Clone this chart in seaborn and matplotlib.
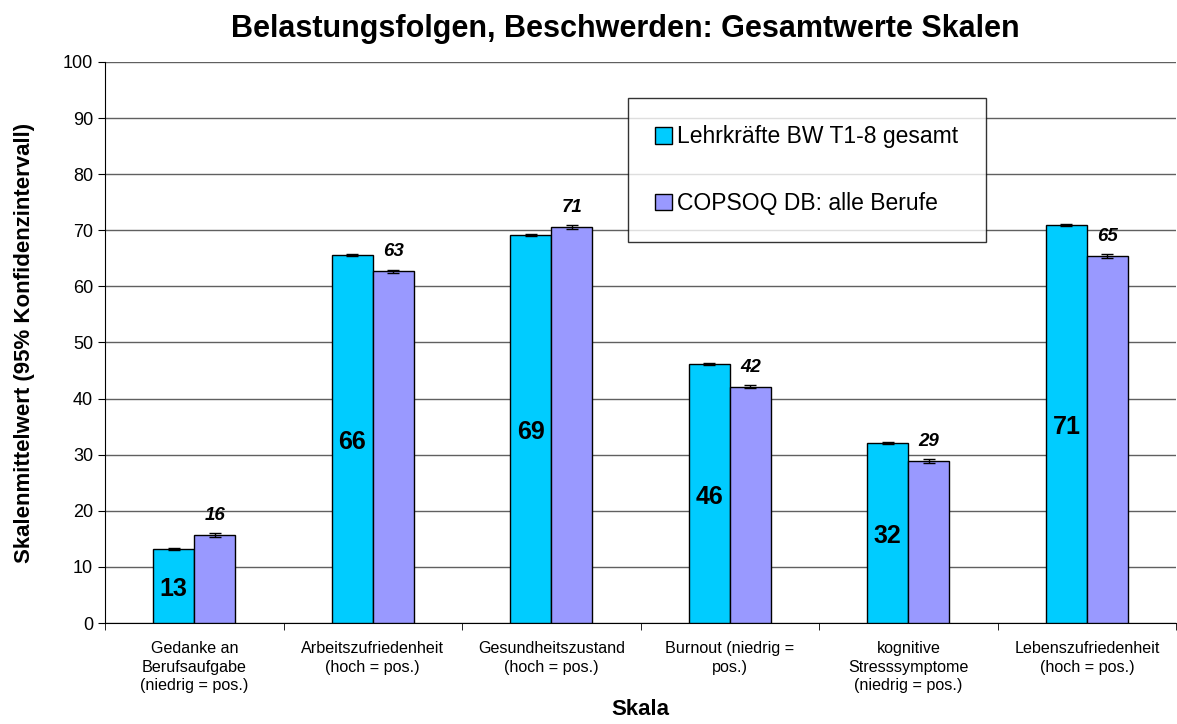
import numpy as np
import pandas as pd
import seaborn as sns
import matplotlib.pyplot as plt
from matplotlib.patches import Patch

categories = ["Gedanke an\nBerufsaufgabe\n(niedrig = pos.)",
              "Arbeitszufriedenheit\n(hoch = pos.)",
              "Gesundheitszustand\n(hoch = pos.)",
              "Burnout (niedrig =\npos.)",
              "kognitive\nStresssymptome\n(niedrig = pos.)",
              "Lebenszufriedenheit\n(hoch = pos.)"]
groups = ["Lehrkräfte BW T1-8 gesamt", "COPSOQ DB: alle Berufe"]
lehrer = [13.2, 65.6, 69.2, 46.2, 32.1, 70.9]
copsoq = [15.7, 62.7, 70.6, 42.1, 28.9, 65.4]
ci_lehrer = [0.2, 0.2, 0.2, 0.2, 0.2, 0.2]
ci_copsoq = [0.3, 0.3, 0.3, 0.3, 0.3, 0.3]
colors = ["#00CCFF", "#9999FF"]

df = pd.DataFrame({
    "Skala": categories * 2,
    "Gruppe": [groups[0]] * 6 + [groups[1]] * 6,
    "Wert": lehrer + copsoq,
})

sns.set_style("white")
plt.rcParams["font.family"] = ["Liberation Sans", "DejaVu Sans"]
plt.rcParams["text.color"] = "black"
plt.rcParams["axes.labelcolor"] = "black"
plt.rcParams["xtick.color"] = "black"
plt.rcParams["ytick.color"] = "black"

fig, ax = plt.subplots(figsize=(11.77, 7.24), dpi=100)
fig.subplots_adjust(left=0.0892, right=0.9993, top=0.9144, bottom=0.1395)

sns.barplot(data=df, x="Skala", y="Wert", hue="Gruppe", palette=colors,
            saturation=1, width=0.46, edgecolor="black", linewidth=1, ax=ax,
            legend=False, errorbar=None, zorder=3)

# error bars and value labels
for cont, vals, cis, italic in zip(ax.containers, [lehrer, copsoq],
                                   [ci_lehrer, ci_copsoq], [False, True]):
    xs = [b.get_x() + b.get_width() / 2 for b in cont]
    ax.errorbar(xs, vals, yerr=cis, fmt="none", ecolor="black",
                elinewidth=1, capsize=4, zorder=4)
    for x, v in zip(xs, vals):
        if italic:
            ax.text(x, v + 2.0, f"{v:.0f}", ha="center", va="bottom",
                    fontsize=13.5, fontweight="bold", fontstyle="italic")
        else:
            ax.text(x, v / 2 - 0.6, f"{v:.0f}", ha="center", va="center",
                    fontsize=18, fontweight="bold")

ax.set_ylim(0, 100)
ax.set_xlim(-0.5, 5.5)
ax.set_yticks(range(0, 101, 10))
ax.yaxis.grid(True, color="#606060", linewidth=1, zorder=0)
ax.set_axisbelow(True)
for s in ["top", "right"]:
    ax.spines[s].set_visible(False)
ax.spines["left"].set_color("black")
ax.spines["bottom"].set_color("black")
ax.tick_params(axis="y", labelsize=13, length=5, color="black", left=True)
ax.tick_params(axis="x", labelsize=11.6, length=0, pad=13)
for lab in ax.get_xticklabels():
    lab.set_linespacing(1.3)
ax.set_xticks(np.arange(-0.5, 5.6, 1), minor=True)
ax.tick_params(axis="x", which="minor", length=5, bottom=True, color="black")

fig.suptitle("Belastungsfolgen, Beschwerden: Gesamtwerte Skalen",
             x=0.531, y=0.96, va="center", fontsize=22, fontweight="bold")
ax.set_xlabel("Skala", fontsize=16, fontweight="bold", labelpad=4)
ax.set_ylabel("Skalenmittelwert (95% Konfidenzintervall)", fontsize=16,
              fontweight="bold", labelpad=20)

handles = [Patch(facecolor=c, edgecolor="black", label=g)
           for c, g in zip(colors, groups)]
leg = ax.legend(handles=handles, loc="upper left",
                bbox_to_anchor=(0.488, 0.936), fontsize=16.5, frameon=True,
                fancybox=False, edgecolor="black", handlelength=0.75,
                handleheight=0.75, handletextpad=0.2, labelspacing=1.9,
                borderpad=1.2, borderaxespad=0)
leg.get_frame().set_linewidth(1)

fig.savefig("out.png", dpi=100)
